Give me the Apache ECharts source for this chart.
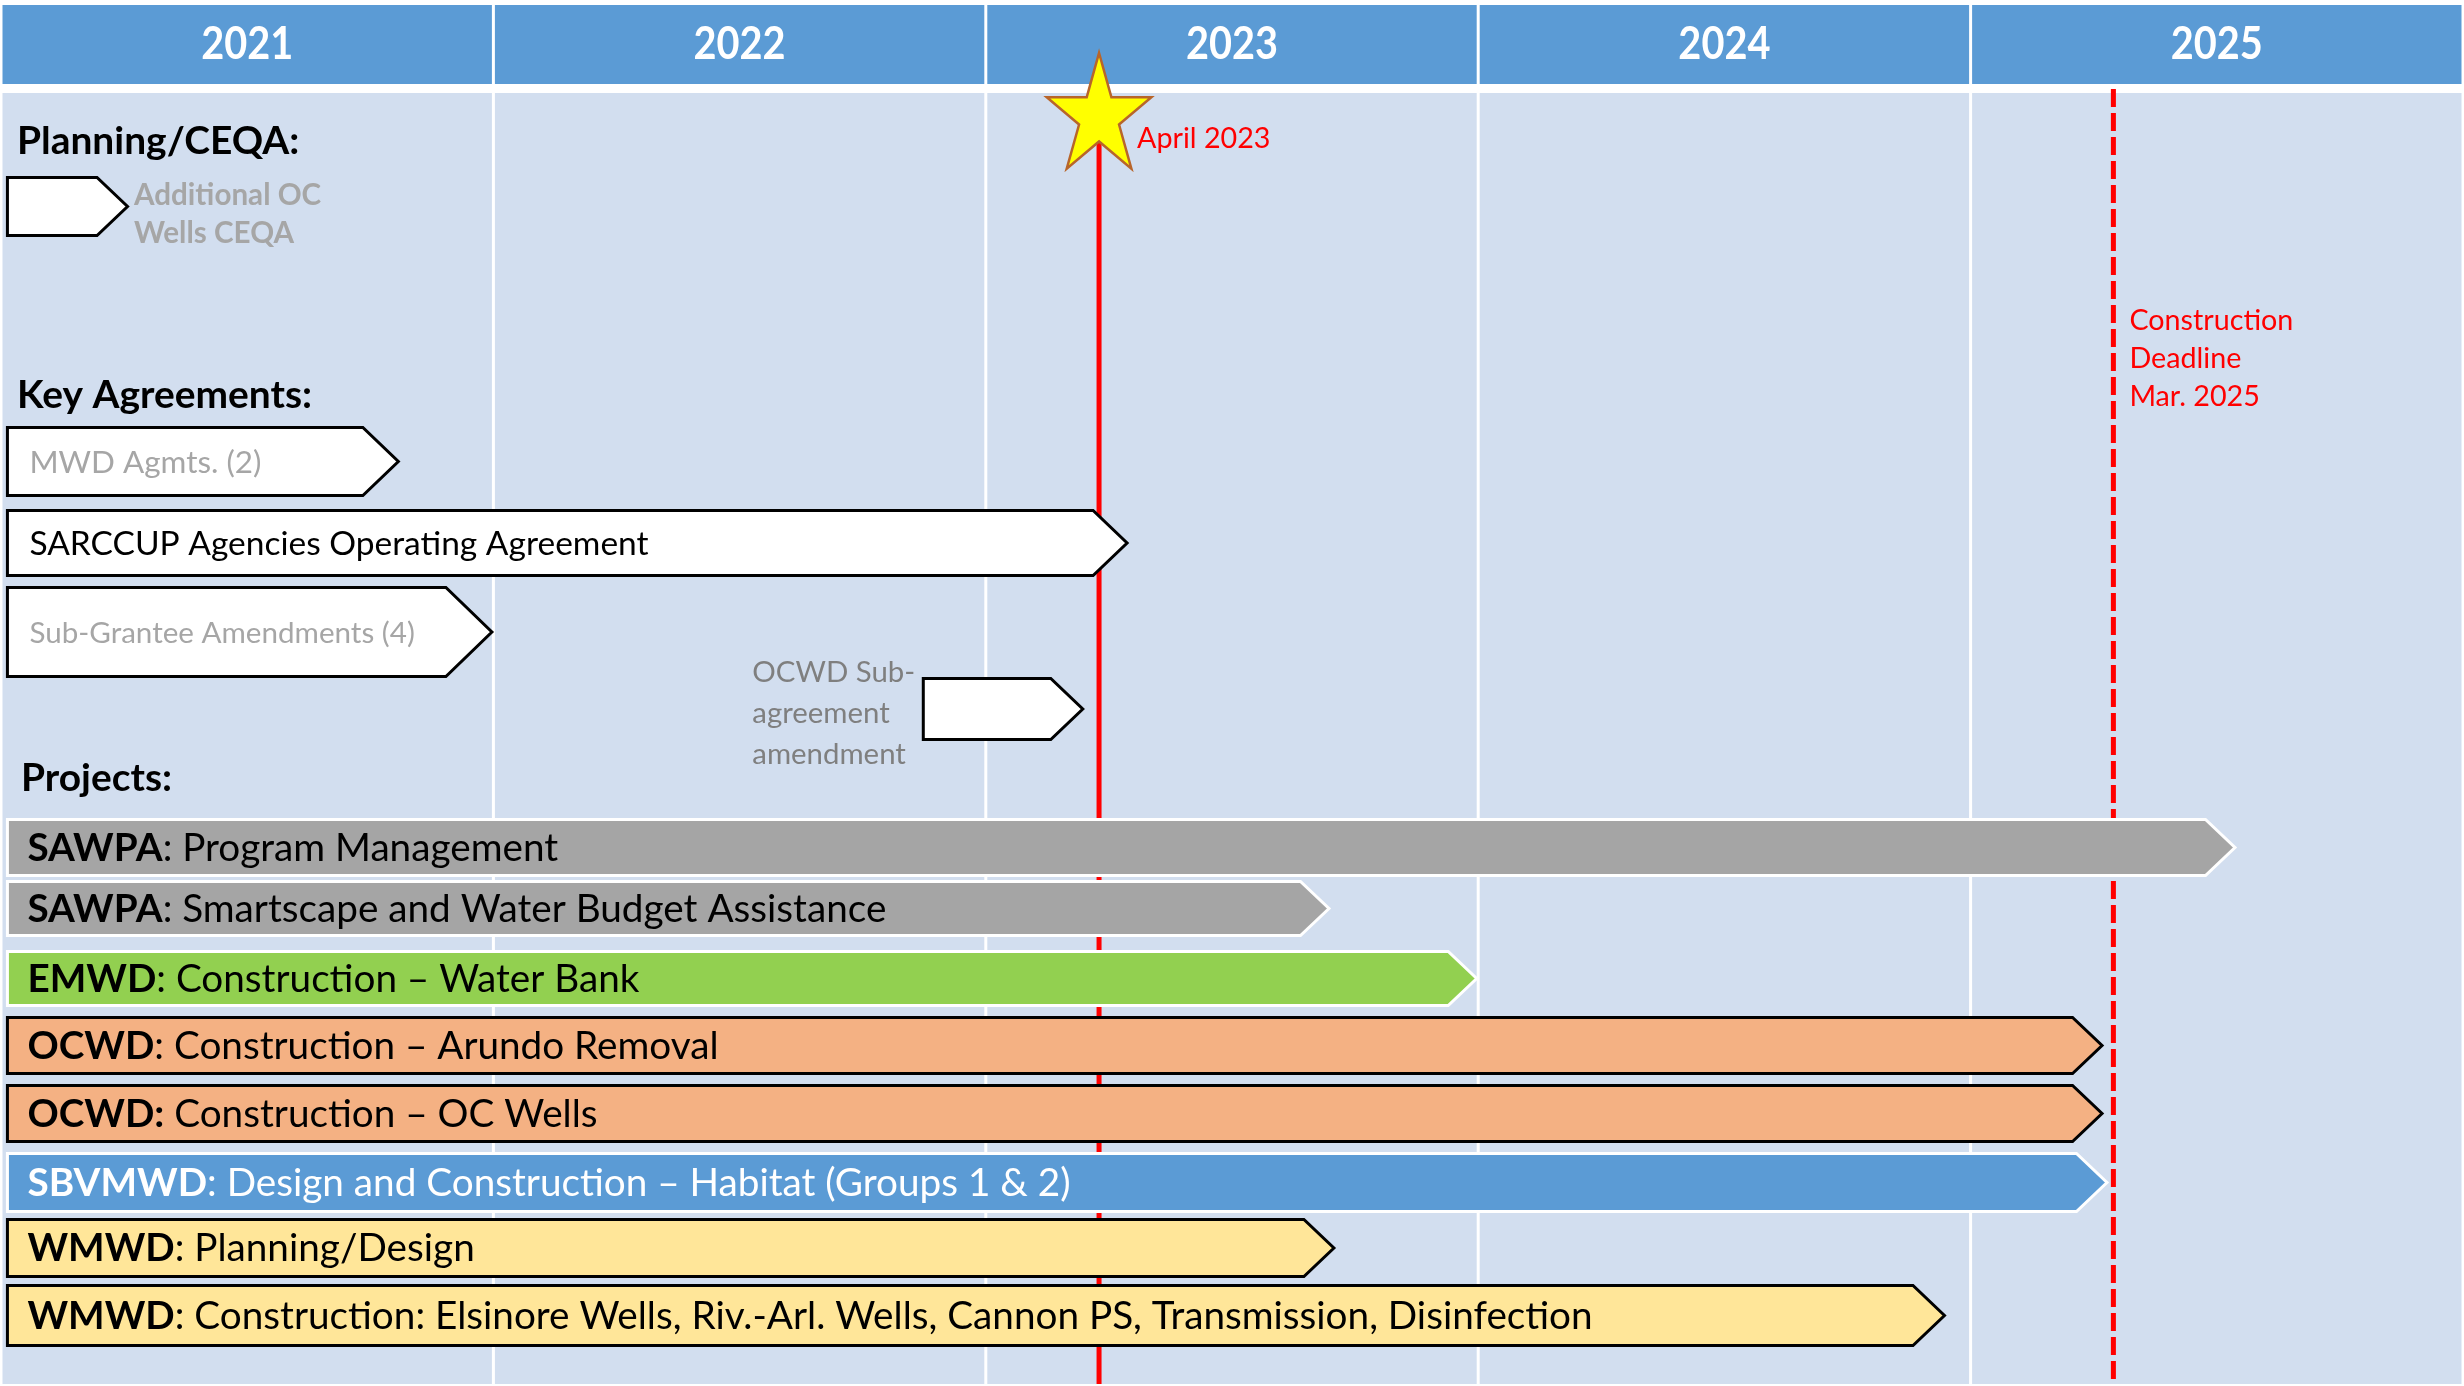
<!DOCTYPE html>
<html><head><meta charset="utf-8">
<script src="https://cdn.jsdelivr.net/npm/echarts@6/dist/echarts.min.js"></script>
<style>html,body{margin:0;padding:0;background:#fff;overflow:hidden}#c{width:2464px;height:1386px}</style>
</head><body><div id="c"></div>
<script>
// ---------------- DATA ----------------
const yearLabels = ['2021', '2022', '2023', '2024', '2025'];
const yearStarts = [2021, 2022, 2023, 2024, 2025];

const sectionTitles = ['Planning/CEQA:', 'Key Agreements:', 'Projects:'];

const planningTasks = ['Additional OC\nWells CEQA'];
const planningStart = [2021.01];
const planningEnd = [2021.26];

const agreementTasks = ['MWD Agmts. (2)', 'SARCCUP Agencies Operating Agreement', 'Sub-Grantee Amendments (4)', 'OCWD Sub-\nagreement\namendment'];
const agreementStart = [2021.01, 2021.01, 2021.01, 2022.87];
const agreementEnd = [2021.81, 2023.29, 2022.00, 2023.20];

const projectAgency = ['SAWPA', 'SAWPA', 'EMWD', 'OCWD', 'OCWD:', 'SBVMWD', 'WMWD', 'WMWD'];
const projectTask = [
  ': Program Management',
  ': Smartscape and Water Budget Assistance',
  ': Construction \u2013 Water Bank',
  ': Construction \u2013 Arundo Removal',
  ' Construction \u2013 OC Wells',
  ': Design and Construction \u2013 Habitat (Groups 1 & 2)',
  ': Planning/Design',
  ': Construction: Elsinore Wells, Riv.-Arl. Wells, Cannon PS, Transmission, Disinfection'
];
const projectStart = [2021.01, 2021.01, 2021.01, 2021.01, 2021.01, 2021.01, 2021.01, 2021.01];
const projectEnd = [2025.54, 2023.70, 2024.00, 2025.27, 2025.27, 2025.28, 2023.71, 2024.95];

const milestoneLabel = ['April 2023'];
const milestoneDate = [2023.23];
const deadlineLabel = ['Construction\nDeadline\nMar. 2025'];
const deadlineDate = [2025.29];

// ---------------- LAYOUT / STYLE ----------------
const L = {
  header: [5, 84], body: [93, 1384], yearTextY: 44, yearScaleY: 1.15,
  sectionY: [141, 395, 778], sectionDX: [16, 16, 20],
  planningRows: [[176, 237]], planningLabelTop: 176, planningLabelLH: 38,
  agreementRows: [[426, 497], [509, 577], [586, 678], [677, 741]],
  agreementLabelW: [232, 620, 386, 163],
  projectRows: [[818, 877], [880, 937], [950, 1007], [1016, 1075], [1084, 1143], [1152, 1213], [1218, 1278], [1284, 1347]],
  labelDX: 22,
  starCY: 117, starRX: 55, starRY: 64,
  milestoneTop: 140, milestoneLabelDX: 38, milestoneLabelY: 139,
  deadlineTop: 89, deadlineLabelDX: 16, deadlineLabelTop: 302, deadlineLH: 38,
  subLabelDX: -171, subLabelMid: 714, subLabelLH: 41
};
const COL = {
  header: '#5b9bd5', body: '#d2deef', red: '#ff0000',
  projFill: ['#a5a5a5', '#a5a5a5', '#92d050', '#f4b183', '#f4b183', '#5b9bd5', '#ffe699', '#ffe699'],
  projStroke: ['#ffffff', '#ffffff', '#ffffff', '#000000', '#000000', '#ffffff', '#000000', '#000000'],
  projText: ['#000', '#000', '#000', '#000', '#000', '#ffffff', '#000', '#000'],
  agrText: ['#a6a6a6', '#000000', '#a6a6a6', '#7f7f7f']
};
const FONT = 'Lato, "Noto Sans", sans-serif';

// font size fitting to the reference text widths
const mctx = document.createElement('canvas').getContext('2d');
function measure(parts, size) {
  let w = 0;
  for (const [t, wt] of parts) { mctx.font = wt + ' ' + size + 'px ' + FONT; w += mctx.measureText(t).width; }
  return w;
}
function fit(list) { // list of [parts, targetWidth]
  let s = 0; for (const [p, t] of list) s += 100 * t / measure(p, 100);
  return Math.round(s / list.length * 10) / 10;
}
const FS = {
  year: fit([[[['2021', 'bold']], 92]]),
  section: fit([[[['Planning/CEQA:', 'bold']], 281], [[['Key Agreements:', 'bold']], 297], [[['Projects:', 'bold']], 151]]),
  planning: fit([[[['Additional OC', 'bold']], 187]]),
  agreement: agreementTasks.map((t, i) => fit([[[[t.split('\n')[0], 'normal']], L.agreementLabelW[i]]])),
  note: fit([[[['April 2023', 'normal']], 131], [[['Construction', 'normal']], 167]]),
  project: fit([
    [[['SAWPA', 'bold'], [': Program Management', 'normal']], 537],
    [[['SAWPA', 'bold'], [': Smartscape and Water Budget Assistance', 'normal']], 863],
    [[['EMWD', 'bold'], [': Construction \u2013 Water Bank', 'normal']], 607],
    [[['OCWD', 'bold'], [': Construction \u2013 Arundo Removal', 'normal']], 686],
    [[['SBVMWD', 'bold'], [': Design and Construction \u2013 Habitat (Groups 1 & 2)', 'normal']], 1045],
    [[['WMWD', 'bold'], [': Planning/Design', 'normal']], 444],
    [[['WMWD', 'bold'], [': Construction: Elsinore Wells, Riv.-Arl. Wells, Cannon PS, Transmission, Disinfection', 'normal']], 1576]
  ])
};

function arrow(api, s, e, top, bottom, lw) {
  const x0 = api.coord([s, top])[0] + lw / 2;
  const xt = api.coord([e, top])[0] - lw / 2;
  const yt = api.coord([s, top])[1] + lw / 2;
  const yb = api.coord([s, bottom])[1] - lw / 2;
  const ym = (yt + yb) / 2, d = (bottom - top) / 2;
  return { pts: [[x0, yt], [xt - d, yt], [xt, ym], [xt - d, yb], [x0, yb]], x0: x0, ym: ym };
}

const chart = echarts.init(document.getElementById('c'), null, { renderer: 'canvas', width: 2464, height: 1386 });

const option = {
  animation: false,
  backgroundColor: '#ffffff',
  grid: { left: 1, right: 1, top: 0, bottom: 0 },
  xAxis: { type: 'value', min: 2021, max: 2026, interval: 1, show: false },
  yAxis: { type: 'value', min: 0, max: 1386, inverse: true, show: false },
  series: [
    { // year columns: header cells + body cells
      type: 'custom', z: 1, silent: true,
      data: yearStarts.map((y, i) => [y, i]),
      encode: { x: 0 },
      renderItem: (params, api) => {
        const y0 = api.value(0), i = params.dataIndex;
        const xa = api.coord([y0, 0])[0] + 1.5, xb = api.coord([y0 + 1, 0])[0] - 1.5;
        return { type: 'group', children: [
          { type: 'rect', shape: { x: xa, y: L.header[0], width: xb - xa, height: L.header[1] - L.header[0] }, style: { fill: COL.header } },
          { type: 'rect', shape: { x: xa, y: L.body[0], width: xb - xa, height: L.body[1] - L.body[0] }, style: { fill: COL.body } },
          { type: 'text', x: (xa + xb) / 2, y: L.yearTextY, scaleY: L.yearScaleY, style: { text: yearLabels[i], fill: '#fff', font: 'bold ' + FS.year + 'px ' + FONT, align: 'center', verticalAlign: 'middle' } }
        ] };
      }
    },
    { // milestone solid line
      type: 'custom', z: 2, silent: true,
      data: milestoneDate.map(d => [d]), encode: { x: 0 },
      renderItem: (params, api) => {
        const x = api.coord([api.value(0), 0])[0];
        return { type: 'line', shape: { x1: x, y1: L.milestoneTop, x2: x, y2: L.body[1] }, style: { stroke: COL.red, lineWidth: 5 } };
      }
    },
    { // deadline dashed line
      type: 'custom', z: 2, silent: true,
      data: deadlineDate.map(d => [d]), encode: { x: 0 },
      renderItem: (params, api) => {
        const x = api.coord([api.value(0), 0])[0];
        return { type: 'group', children: [
          { type: 'line', shape: { x1: x, y1: L.deadlineTop, x2: x, y2: L.body[1] }, style: { stroke: COL.red, lineWidth: 5, lineDash: [18, 6] } },
          { type: 'text', x: x + L.deadlineLabelDX, y: L.deadlineLabelTop, style: { text: deadlineLabel[params.dataIndex], fill: COL.red, font: FS.note + 'px ' + FONT, lineHeight: L.deadlineLH, verticalAlign: 'top', align: 'left' } }
        ] };
      }
    },
    { // section titles
      type: 'custom', z: 3, silent: true,
      data: sectionTitles.map((t, i) => [2021, i]), encode: { x: 0 },
      renderItem: (params, api) => {
        const i = params.dataIndex;
        const x = api.coord([api.value(0), 0])[0] + L.sectionDX[i];
        return { type: 'text', x: x, y: L.sectionY[i], style: { text: sectionTitles[i], fill: '#000', font: 'bold ' + FS.section + 'px ' + FONT, verticalAlign: 'middle' } };
      }
    },
    { // planning
      type: 'custom', z: 4, silent: true,
      data: planningStart.map((s, i) => [s, planningEnd[i]]), encode: { x: [0, 1] },
      renderItem: (params, api) => {
        const i = params.dataIndex, r = L.planningRows[i];
        const a = arrow(api, api.value(0), api.value(1), r[0], r[1], 3);
        const tip = api.coord([api.value(1), 0])[0];
        return { type: 'group', children: [
          { type: 'polygon', shape: { points: a.pts }, style: { fill: '#fff', stroke: '#000', lineWidth: 3, lineJoin: 'miter' } },
          { type: 'text', x: tip + 5, y: L.planningLabelTop, style: { text: planningTasks[i], fill: '#a6a6a6', font: 'bold ' + FS.planning + 'px ' + FONT, lineHeight: L.planningLabelLH, verticalAlign: 'top' } }
        ] };
      }
    },
    { // key agreements
      type: 'custom', z: 4, silent: true,
      data: agreementStart.map((s, i) => [s, agreementEnd[i]]), encode: { x: [0, 1] },
      renderItem: (params, api) => {
        const i = params.dataIndex, r = L.agreementRows[i];
        const a = arrow(api, api.value(0), api.value(1), r[0], r[1], 3);
        const multi = agreementTasks[i].indexOf('\n') >= 0;
        const txt = multi
          ? { type: 'text', x: a.x0 + L.subLabelDX, y: L.subLabelMid, style: { text: agreementTasks[i], fill: COL.agrText[i], font: FS.agreement[i] + 'px ' + FONT, lineHeight: L.subLabelLH, verticalAlign: 'middle' } }
          : { type: 'text', x: a.x0 + L.labelDX, y: a.ym + 1, style: { text: agreementTasks[i], fill: COL.agrText[i], font: FS.agreement[i] + 'px ' + FONT, verticalAlign: 'middle' } };
        return { type: 'group', children: [
          { type: 'polygon', shape: { points: a.pts }, style: { fill: '#fff', stroke: '#000', lineWidth: 3, lineJoin: 'miter' } },
          txt
        ] };
      }
    },
    { // projects
      type: 'custom', z: 4, silent: true,
      data: projectStart.map((s, i) => [s, projectEnd[i]]), encode: { x: [0, 1] },
      renderItem: (params, api) => {
        const i = params.dataIndex, r = L.projectRows[i];
        const a = arrow(api, api.value(0), api.value(1), r[0], r[1], 3);
        return { type: 'group', children: [
          { type: 'polygon', shape: { points: a.pts }, style: { fill: COL.projFill[i], stroke: COL.projStroke[i], lineWidth: 3, lineJoin: 'miter' } },
          { type: 'text', x: a.x0 + L.labelDX - 2, y: a.ym + 1, style: {
            text: '{b|' + projectAgency[i] + '}{r|' + projectTask[i] + '}',
            fill: COL.projText[i], font: FS.project + 'px ' + FONT, verticalAlign: 'middle',
            rich: {
              b: { fontWeight: 'bold', fontSize: FS.project, fontFamily: FONT, fill: COL.projText[i] },
              r: { fontWeight: 'normal', fontSize: FS.project, fontFamily: FONT, fill: COL.projText[i] }
            } } }
        ] };
      }
    },
    { // milestone star + label
      type: 'custom', z: 6, silent: true,
      data: milestoneDate.map(d => [d]), encode: { x: 0 },
      renderItem: (params, api) => {
        const cx = api.coord([api.value(0), 0])[0], cy = L.starCY;
        const pts = [];
        for (let k = 0; k < 10; k++) {
          const ang = -Math.PI / 2 + k * Math.PI / 5;
          const rr = k % 2 === 0 ? 1 : 0.382;
          pts.push([cx + Math.cos(ang) * rr * L.starRX, cy + Math.sin(ang) * rr * L.starRY]);
        }
        return { type: 'group', children: [
          { type: 'polygon', shape: { points: pts }, style: { fill: '#ffff00', stroke: '#b8652a', lineWidth: 2.5, lineJoin: 'miter' } },
          { type: 'text', x: cx + L.milestoneLabelDX, y: L.milestoneLabelY, style: { text: milestoneLabel[params.dataIndex], fill: COL.red, font: FS.note + 'px ' + FONT, verticalAlign: 'middle' } }
        ] };
      }
    }
  ]
};
chart.setOption(option);
</script>
</body></html>
